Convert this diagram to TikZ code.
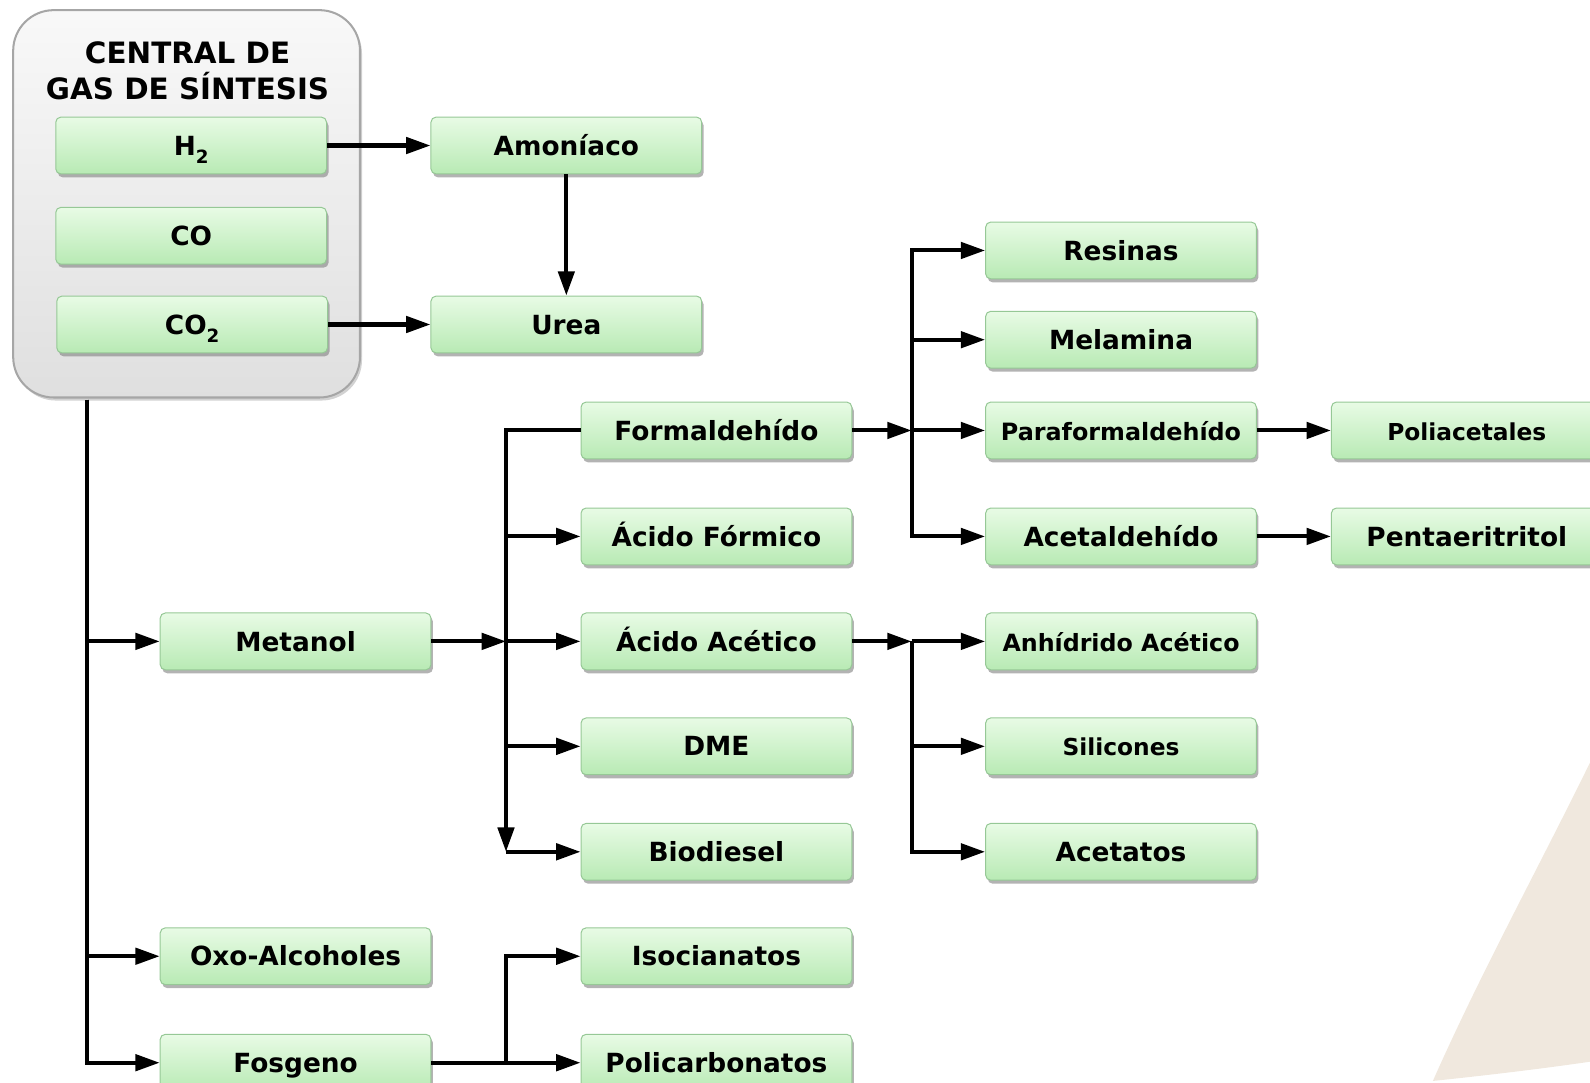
\documentclass[tikz,border=0pt]{standalone}
\usepackage{fontspec}
\setmainfont{DejaVu Sans}
\usetikzlibrary{arrows.meta,shadows}
\definecolor{gtop}{RGB}{232,251,229}
\definecolor{gbot}{RGB}{184,234,180}
\definecolor{gedge}{RGB}{150,200,150}
\definecolor{beige}{RGB}{240,232,222}
\newcommand\lblfont[1]{\fontsize{#1}{#1}\selectfont\bfseries}
\newcommand\subtwo{\raisebox{-0.3em}{\fontsize{18}{18}\selectfont 2}}
\begin{document}
\begin{tikzpicture}[x=1pt,y=-1pt,
 gbox/.style={rectangle, rounded corners=5pt, minimum width=267pt, minimum height=56pt,
   inner sep=0pt, text height=19pt, text depth=0pt,
   top color=gtop, bottom color=gbot, draw=gedge, line width=1pt,
   drop shadow={shadow xshift=2pt, shadow yshift=-3.5pt, fill=black!50, opacity=0.6},
   font=\lblfont{26}},
 conn/.style={line width=4pt},
 arr/.style={conn, -{Triangle[length=24pt,width=16pt]}},
]
\useasboundingbox (0,0) rectangle (1568,1068);
\clip (0,0) rectangle (1568,1068);
% background wedge
\fill[beige] (1568,752) .. controls (1515,860) and (1460,960) .. (1413,1066)
  .. controls (1470,1060) and (1520,1054) .. (1568,1047) -- cycle;
% central box
\node[rectangle, rounded corners=40pt, draw=gray!70, line width=2pt,
  top color=gray!5, bottom color=gray!25, minimum width=342pt, minimum height=382pt,
  drop shadow={shadow xshift=2pt, shadow yshift=-3pt, fill=black!35, opacity=0.5}]
  (central) at (184,201) {};
\node[font=\fontsize{29}{35}\selectfont\bfseries, align=center] (ctitle) at (185,70)
  {CENTRAL DE\\GAS DE SÍNTESIS};
% nodes
\node[gbox] (h2) at (188.5,143.5) {H\subtwo};
\node[gbox] (co) at (188.5,232.5) {CO};
\node[gbox] (co2) at (189.5,320) {CO\subtwo};
\node[gbox] (amon) at (558.5,143.5) {Amoníaco};
\node[gbox] (urea) at (558.5,320) {Urea};
\node[gbox] (resinas) at (1105.5,247) {Resinas};
\node[gbox] (melamina) at (1105.5,335) {Melamina};
\node[gbox] (formal) at (706.5,424.5) {Formaldehído};
\node[gbox, font=\lblfont{23.5}] (parafor) at (1105.5,424.5) {Paraformaldehído};
\node[gbox, font=\lblfont{23}] (poliac) at (1446.5,424.5) {Poliacetales};
\node[gbox] (acfor) at (706.5,529) {Ácido Fórmico};
\node[gbox] (acetal) at (1105.5,529) {Acetaldehído};
\node[gbox] (penta) at (1446.5,529) {Pentaeritritol};
\node[gbox] (metanol) at (291.5,632.5) {Metanol};
\node[gbox] (acac) at (706.5,632.5) {Ácido Acético};
\node[gbox, font=\lblfont{23.4}] (anh) at (1105.5,632.5) {Anhídrido Acético};
\node[gbox] (dme) at (706.5,736) {DME};
\node[gbox, font=\lblfont{23}] (silic) at (1105.5,736) {Silicones};
\node[gbox] (biod) at (706.5,840) {Biodiesel};
\node[gbox] (acetatos) at (1105.5,840) {Acetatos};
\node[gbox] (oxo) at (291.5,943) {Oxo-Alcoholes};
\node[gbox] (isoc) at (706.5,943) {Isocianatos};
\node[gbox] (fosg) at (291.5,1048) {Fosgeno};
\node[gbox] (polic) at (706.5,1048) {Policarbonatos};
% junction coordinates
\coordinate (t0) at (86,394);
\coordinate (j1) at (499,632.5);
\coordinate (j1bot) at (499,840);
\coordinate (j2) at (899,424.5);
\coordinate (j3) at (899,632.5);
\coordinate (j4) at (499,1048);
% connectors
\draw[arr] (h2) -- (amon);
\draw[arr] (co2) -- (urea);
\draw[arr] (amon) -- (urea);
\draw[arr] (t0) |- (fosg);
\draw[arr] (t0) |- (metanol);
\draw[arr] (t0) |- (oxo);
\draw[arr] (metanol) -- (j1);
\draw[arr] (formal.west) -| (j1bot);
\draw[arr] (j1bot) -- (biod);
\draw[arr] (j1 |- acfor) -- (acfor);
\draw[arr] (j1) -- (acac);
\draw[arr] (j1 |- dme) -- (dme);
\draw[arr] (formal) -- (j2);
\draw[arr] (j2 |- acetal) |- (resinas);
\draw[arr] (j2 |- melamina) -- (melamina);
\draw[arr] (j2) -- (parafor);
\draw[arr] (j2) |- (acetal);
\draw[arr] (parafor) -- (poliac);
\draw[arr] (acetal) -- (penta);
\draw[arr] (acac) -- (j3);
\draw[arr] (j3) -- (anh);
\draw[arr] (j3) |- (silic);
\draw[arr] (j3) |- (acetatos);
\draw[conn] (fosg) -- (j4);
\draw[arr] (j4) -- (polic);
\draw[arr] (j4) |- (isoc);
\end{tikzpicture}
\end{document}
